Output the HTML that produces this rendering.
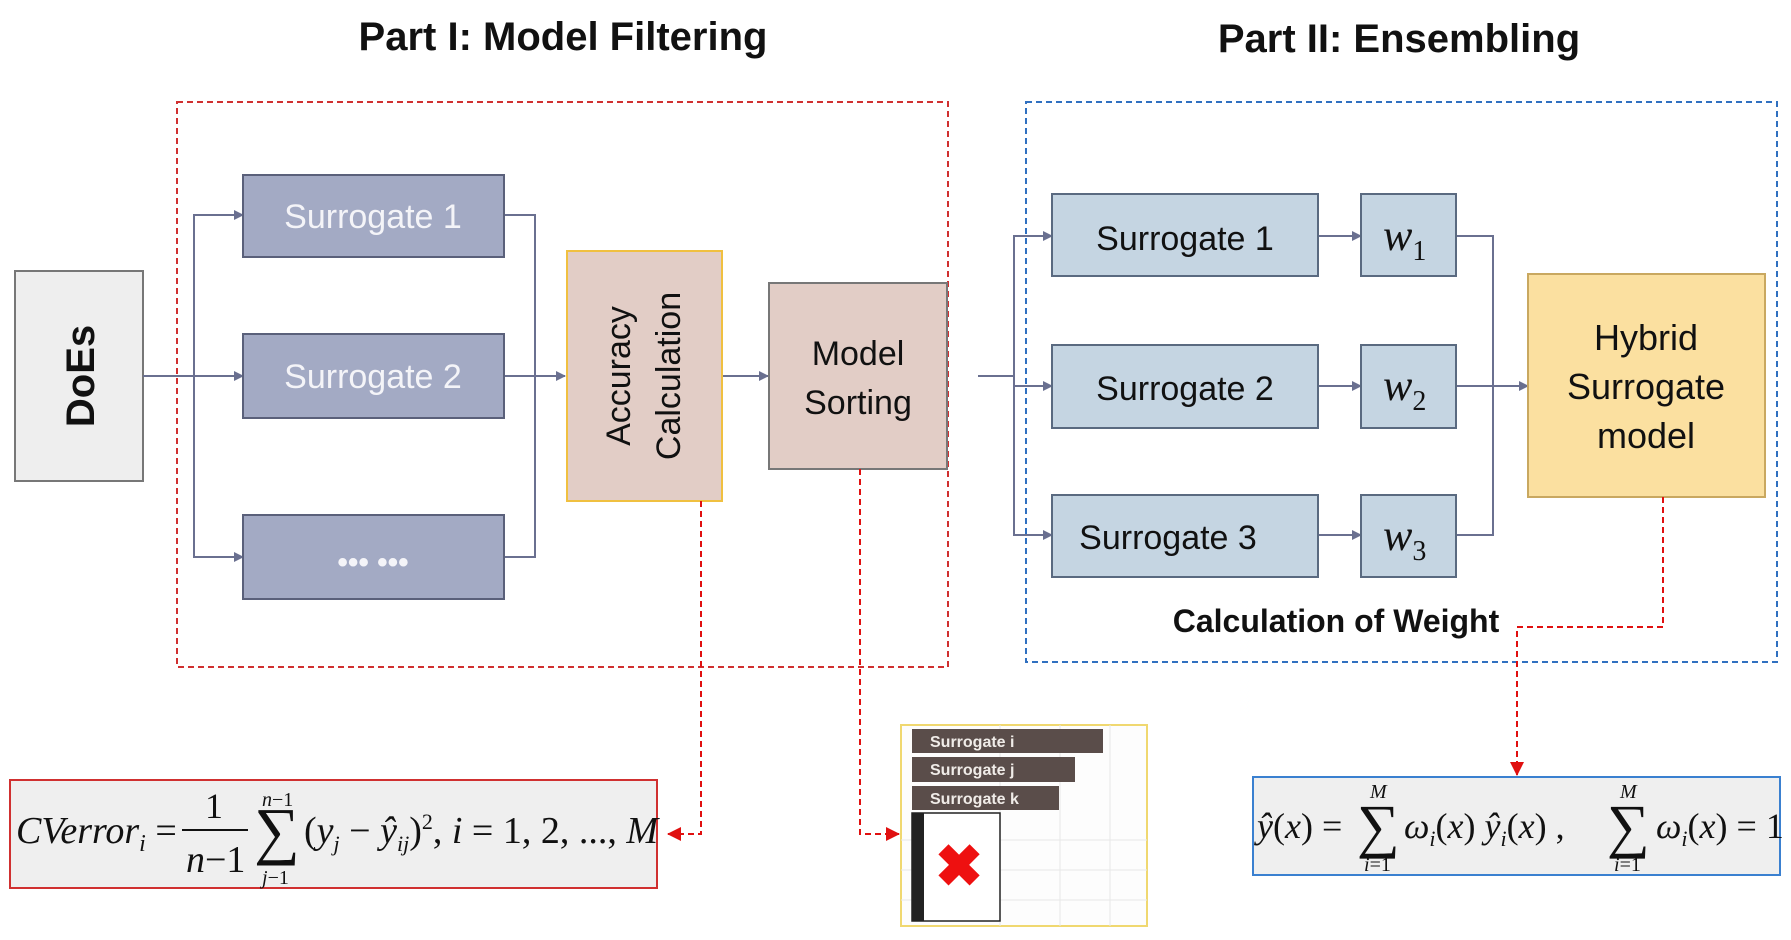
<!DOCTYPE html>
<html><head><meta charset="utf-8"><style>
body{margin:0;background:#fff}
svg{display:block}
text{font-family:"Liberation Sans",sans-serif}
.m text{font-family:"Liberation Serif",serif;font-style:italic}
.m text.u{font-style:normal}
</style></head><body>
<svg width="1791" height="940" viewBox="0 0 1791 940" xmlns="http://www.w3.org/2000/svg">
<defs>
<marker id="a" markerWidth="10" markerHeight="10" refX="9" refY="5" orient="auto" markerUnits="userSpaceOnUse"><path d="M0,0 L10,5 L0,10z" fill="#6a7090"/></marker>
<marker id="r" markerWidth="14" markerHeight="14" refX="13" refY="7" orient="auto" markerUnits="userSpaceOnUse"><path d="M0,0 L14,7 L0,14z" fill="#e01010"/></marker>
</defs>
<text x="563" y="50" font-size="40" font-weight="bold" text-anchor="middle" fill="#111">Part I: Model Filtering</text>
<text x="1399" y="52" font-size="40" font-weight="bold" text-anchor="middle" fill="#111">Part II: Ensembling</text>
<rect x="177" y="102" width="771" height="565" fill="none" stroke="#d03030" stroke-width="2" stroke-dasharray="6,4"/>
<rect x="1026" y="102" width="751" height="560" fill="none" stroke="#3070c0" stroke-width="2" stroke-dasharray="6,4"/>
<rect x="15" y="271" width="128" height="210" fill="#eeeeee" stroke="#777" stroke-width="2"/>
<text transform="translate(94,376) rotate(-90)" font-size="40" font-weight="bold" text-anchor="middle" fill="#111">DoEs</text>
<g stroke="#6a7090" stroke-width="2" fill="none">
<line x1="143" y1="376" x2="243" y2="376" marker-end="url(#a)"/>
<polyline points="243,215 194,215 194,557 243,557" />
<line x1="194" y1="215" x2="243" y2="215" marker-end="url(#a)"/>
<line x1="194" y1="557" x2="243" y2="557" marker-end="url(#a)"/>
<polyline points="504,215 535,215 535,557 504,557"/>
<line x1="504" y1="376" x2="565" y2="376" marker-end="url(#a)"/>
<line x1="722" y1="376" x2="768" y2="376" marker-end="url(#a)"/>
<line x1="978" y1="376" x2="1014" y2="376"/>
<polyline points="1052,236 1014,236 1014,535 1052,535"/>
<line x1="1014" y1="236" x2="1052" y2="236" marker-end="url(#a)"/>
<line x1="1014" y1="386" x2="1052" y2="386" marker-end="url(#a)"/>
<line x1="1014" y1="535" x2="1052" y2="535" marker-end="url(#a)"/>
<line x1="1318" y1="236" x2="1361" y2="236" marker-end="url(#a)"/>
<line x1="1318" y1="386" x2="1361" y2="386" marker-end="url(#a)"/>
<line x1="1318" y1="535" x2="1361" y2="535" marker-end="url(#a)"/>
<polyline points="1456,236 1493,236 1493,535 1456,535"/>
<line x1="1456" y1="386" x2="1528" y2="386" marker-end="url(#a)"/>
</g>
<g fill="#a3aac4" stroke="#5a607a" stroke-width="2">
<rect x="243" y="175" width="261" height="82"/>
<rect x="243" y="334" width="261" height="84"/>
<rect x="243" y="515" width="261" height="84"/>
</g>
<g fill="#f4f4f8" font-size="34" text-anchor="middle">
<text x="373" y="228">Surrogate 1</text>
<text x="373" y="388">Surrogate 2</text>
<text x="373" y="572" font-weight="bold" font-size="30">•••  •••</text>
</g>
<rect x="567" y="251" width="155" height="250" fill="#e2cdc6" stroke="#f0c040" stroke-width="2"/>
<text transform="translate(630,376) rotate(-90)" font-size="34" text-anchor="middle" fill="#111">Accuracy</text>
<text transform="translate(680,376) rotate(-90)" font-size="34" text-anchor="middle" fill="#111">Calculation</text>
<rect x="769" y="283" width="178" height="186" fill="#e2cdc6" stroke="#777" stroke-width="2"/>
<text x="858" y="365" font-size="34" text-anchor="middle" fill="#111">Model</text>
<text x="858" y="414" font-size="34" text-anchor="middle" fill="#111">Sorting</text>
<g fill="#c5d5e2" stroke="#5a6a80" stroke-width="2">
<rect x="1052" y="194" width="266" height="82"/>
<rect x="1052" y="345" width="266" height="83"/>
<rect x="1052" y="495" width="266" height="82"/>
<rect x="1361" y="194" width="95" height="82"/>
<rect x="1361" y="345" width="95" height="83"/>
<rect x="1361" y="495" width="95" height="82"/>
</g>
<g font-size="34" text-anchor="middle" fill="#111">
<text x="1185" y="250">Surrogate 1</text>
<text x="1185" y="400">Surrogate 2</text>
<text x="1168" y="549">Surrogate 3</text>
</g>
<g class="m" fill="#111">
<text x="1383" y="250" font-size="44">w<tspan font-size="28" dy="10" font-style="normal">1</tspan></text>
<text x="1383" y="400" font-size="44">w<tspan font-size="28" dy="10" font-style="normal">2</tspan></text>
<text x="1383" y="550" font-size="44">w<tspan font-size="28" dy="10" font-style="normal">3</tspan></text>
</g>
<rect x="1528" y="274" width="237" height="223" fill="#fbe0a0" stroke="#c9a860" stroke-width="2"/>
<g font-size="36" text-anchor="middle" fill="#111">
<text x="1646" y="350">Hybrid</text>
<text x="1646" y="399">Surrogate</text>
<text x="1646" y="448">model</text>
</g>
<text x="1336" y="632" font-size="32" font-weight="bold" text-anchor="middle" fill="#111">Calculation of Weight</text>
<g stroke="#e01010" stroke-width="2" fill="none" stroke-dasharray="6,4">
<polyline points="1663,497 1663,627 1517,627 1517,775" marker-end="url(#r)"/>
<polyline points="701,501 701,834 668,834" marker-end="url(#r)"/>
<polyline points="860,469 860,834 899,834" marker-end="url(#r)"/>
</g>
<rect x="10" y="780" width="647" height="108" fill="#efefef" stroke="#d03030" stroke-width="2"/>
<g class="m" fill="#111">
<text x="16" y="843" font-size="38">CVerror<tspan font-size="24" dy="8">i</tspan><tspan dy="-8" font-style="normal"> =</tspan></text>
<text class="u" x="205" y="818" font-size="36">1</text>
<line x1="182" y1="830" x2="248" y2="830" stroke="#111" stroke-width="2"/>
<text x="186" y="872" font-size="38">n<tspan font-style="normal">−1</tspan></text>
<text class="u" x="254" y="852" font-size="64">∑</text>
<text x="262" y="806" font-size="20">n<tspan font-style="normal">−1</tspan></text>
<text x="262" y="884" font-size="20">j<tspan font-style="normal">−1</tspan></text>
<text x="304" y="843" font-size="38"><tspan font-style="normal">(</tspan>y<tspan font-size="22" dy="8">j</tspan><tspan dy="-8" font-style="normal"> − </tspan>ŷ<tspan font-size="22" dy="8">ij</tspan><tspan dy="-8" font-style="normal">)</tspan><tspan font-size="22" dy="-14" font-style="normal">2</tspan><tspan dy="14" font-style="normal">, </tspan>i<tspan font-style="normal"> = 1, 2, ..., </tspan>M</text>
</g>
<rect x="901" y="725" width="246" height="201" fill="#fdfdfd" stroke="#f0d870" stroke-width="2"/>
<g stroke="#e8e8e8" stroke-width="1">
<line x1="1000" y1="725" x2="1000" y2="926"/><line x1="1060" y1="725" x2="1060" y2="926"/><line x1="1110" y1="725" x2="1110" y2="926"/>
<line x1="901" y1="840" x2="1147" y2="840"/><line x1="901" y1="870" x2="1147" y2="870"/><line x1="901" y1="900" x2="1147" y2="900"/>
</g>
<rect x="912" y="729" width="191" height="24" fill="#5a4d4a"/>
<rect x="912" y="757" width="163" height="25" fill="#5a4d4a"/>
<rect x="912" y="786" width="147" height="24" fill="#5a4d4a"/>
<g font-size="16" font-weight="bold" fill="#f0ece8">
<text x="930" y="747">Surrogate i</text><text x="930" y="775">Surrogate j</text><text x="930" y="804">Surrogate k</text>
</g>
<rect x="912" y="813" width="88" height="108" fill="#fff" stroke="#222" stroke-width="1.5"/>
<rect x="912" y="813" width="12" height="108" fill="#222"/>
<text x="959" y="886" font-size="58" font-weight="bold" fill="#ee1010" text-anchor="middle">✖</text>
<rect x="1253" y="777" width="527" height="98" fill="#efefef" stroke="#3a80d0" stroke-width="2"/>
<g class="m" fill="#111">
<text x="1257" y="838" font-size="36">ŷ<tspan font-style="normal">(</tspan>x<tspan font-style="normal">) =</tspan></text>
<text class="u" x="1357" y="846" font-size="60">∑</text>
<text x="1370" y="798" font-size="20">M</text>
<text x="1364" y="871" font-size="20">i<tspan font-style="normal">=1</tspan></text>
<text x="1404" y="838" font-size="36">ω<tspan font-size="22" dy="8">i</tspan><tspan dy="-8" font-style="normal">(</tspan>x<tspan font-style="normal">) </tspan>ŷ<tspan font-size="22" dy="8">i</tspan><tspan dy="-8" font-style="normal">(</tspan>x<tspan font-style="normal">) ,</tspan></text>
<text class="u" x="1607" y="846" font-size="60">∑</text>
<text x="1620" y="798" font-size="20">M</text>
<text x="1614" y="871" font-size="20">i<tspan font-style="normal">=1</tspan></text>
<text x="1656" y="838" font-size="36">ω<tspan font-size="22" dy="8">i</tspan><tspan dy="-8" font-style="normal">(</tspan>x<tspan font-style="normal">) = 1</tspan></text>
</g>
</svg>
</body></html>
